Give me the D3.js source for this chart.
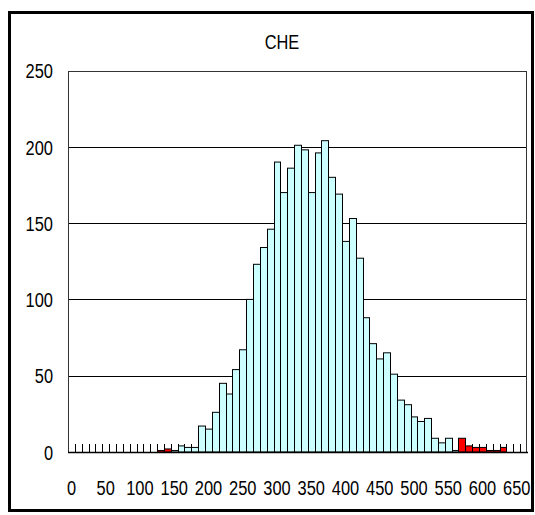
<!DOCTYPE html>
<html>
<head>
<meta charset="utf-8">
<script src="https://cdn.jsdelivr.net/npm/d3@7"></script>
<style>
  html, body { margin: 0; padding: 0; background: #fff; }
  svg { display: block; }
  text { font-family: "Liberation Sans Narrow", "Arial Narrow", "Liberation Sans", Arial, sans-serif; fill: #000; }
</style>
</head>
<body>
<svg id="chart" width="535" height="515"></svg>
<script>
// Histogram of CHE values, 10-unit bins
const title = "CHE";
const bins = [0,10,20,30,40,50,60,70,80,90,100,110,120,130,140,150,160,170,180,190,
  200,210,220,230,240,250,260,270,280,290,300,310,320,330,340,350,360,370,380,390,
  400,410,420,430,440,450,460,470,480,490,500,510,520,530,540,550,560,570,580,590,
  600,610,620,630,640,650,660];
const counts = [0,0,0,0,0,0,0,0,0,0,0,0,0,1,2,1,4,3,3,17,
  15,26,45,38,54,67,100,123,134,146,190,170,186,201,198,170,196,204,180,169,
  138,153,127,88,71,61,65,51,34,31,23,20,22,9,6,9,1,9,4,3,
  3,1,1,3,0,0,0];
// bins flagged as out of range (drawn in red)
const flagged = [130,140,570,580,590,600,610,620,630];
const xTickLabels = [0,50,100,150,200,250,300,350,400,450,500,550,600,650];
const yTicks = [0,50,100,150,200,250];

const svg = d3.select("#chart");
const plot = { left: 68, right: 527, top: 70.5, bottom: 452 };

// squeeze text horizontally to a narrow face when no narrow font is installed
function narrow(sel) {
  sel.each(function () {
    const w = this.getComputedTextLength();
    d3.select(this).attr("textLength", (w * 0.82).toFixed(1)).attr("lengthAdjust", "spacingAndGlyphs");
  });
}

// outer chart frame
svg.append("rect")
  .attr("x", 9.5).attr("y", 12.5)
  .attr("width", 523).attr("height", 498)
  .attr("fill", "#fff").attr("stroke", "#000").attr("stroke-width", 3);

const x = d3.scaleBand().domain(bins).range([plot.left, plot.right]).padding(0);
const y = d3.scaleLinear().domain([0, 250]).range([plot.bottom, plot.top]);

// horizontal gridlines
svg.append("g").selectAll("line")
  .data(yTicks.filter(d => d > 0 && d < 250))
  .join("line")
  .attr("x1", plot.left).attr("x2", plot.right)
  .attr("y1", d => Math.round(y(d)) + 0.5).attr("y2", d => Math.round(y(d)) + 0.5)
  .attr("stroke", "#000").attr("stroke-width", 1);

// plot frame
svg.append("rect")
  .attr("x", plot.left + 0.5).attr("y", Math.round(plot.top) + 0.5)
  .attr("width", plot.right - plot.left - 1)
  .attr("height", Math.round(plot.bottom) - Math.round(plot.top))
  .attr("fill", "none").attr("stroke", "#333").attr("stroke-width", 1);

// inward tick marks at bin boundaries
svg.append("g").selectAll("line")
  .data(bins.slice(1))
  .join("line")
  .attr("x1", d => Math.round(x(d)) + 0.5).attr("x2", d => Math.round(x(d)) + 0.5)
  .attr("y1", plot.bottom).attr("y2", plot.bottom - 8)
  .attr("stroke", "#000").attr("stroke-width", 1);

// bars
const data = bins.map((b, i) => ({ bin: b, count: counts[i] }));
svg.append("g").selectAll("rect")
  .data(data.filter(d => d.count > 0))
  .join("rect")
  .attr("x", d => Math.round(x(d.bin)) + 0.5)
  .attr("width", d => Math.round(x(d.bin) + x.bandwidth()) - Math.round(x(d.bin)))
  .attr("y", d => y(d.count))
  .attr("height", d => plot.bottom - y(d.count))
  .attr("fill", d => flagged.includes(d.bin) ? "#ff0000" : "#ccffff")
  .attr("stroke", "#000").attr("stroke-width", 1);

// x axis line
svg.append("line")
  .attr("x1", plot.left).attr("x2", plot.right + 1)
  .attr("y1", Math.round(plot.bottom) + 0.5).attr("y2", Math.round(plot.bottom) + 0.5)
  .attr("stroke", "#000").attr("stroke-width", 1.5);

// y axis labels
const yAxis = svg.append("g")
  .attr("transform", `translate(${plot.left},0)`)
  .call(d3.axisLeft(y).tickValues(yTicks).tickSize(0).tickPadding(15));
yAxis.select(".domain").remove();
yAxis.selectAll("text")
  .style("font-size", "20px")
  .attr("font-family", null)
  .attr("dy", "0.36em")
  .call(narrow);

// x axis labels
const xAxis = svg.append("g")
  .attr("transform", `translate(0,${plot.bottom})`)
  .call(d3.axisBottom(x).tickValues(xTickLabels).tickSize(0).tickPadding(29));
xAxis.select(".domain").remove();
xAxis.selectAll("text")
  .style("font-size", "20px")
  .attr("font-family", null)
  .call(narrow);

// title
svg.append("text")
  .attr("x", 282).attr("y", 49)
  .attr("text-anchor", "middle")
  .style("font-size", "20px")
  .text(title)
  .call(narrow);
</script>
</body>
</html>
